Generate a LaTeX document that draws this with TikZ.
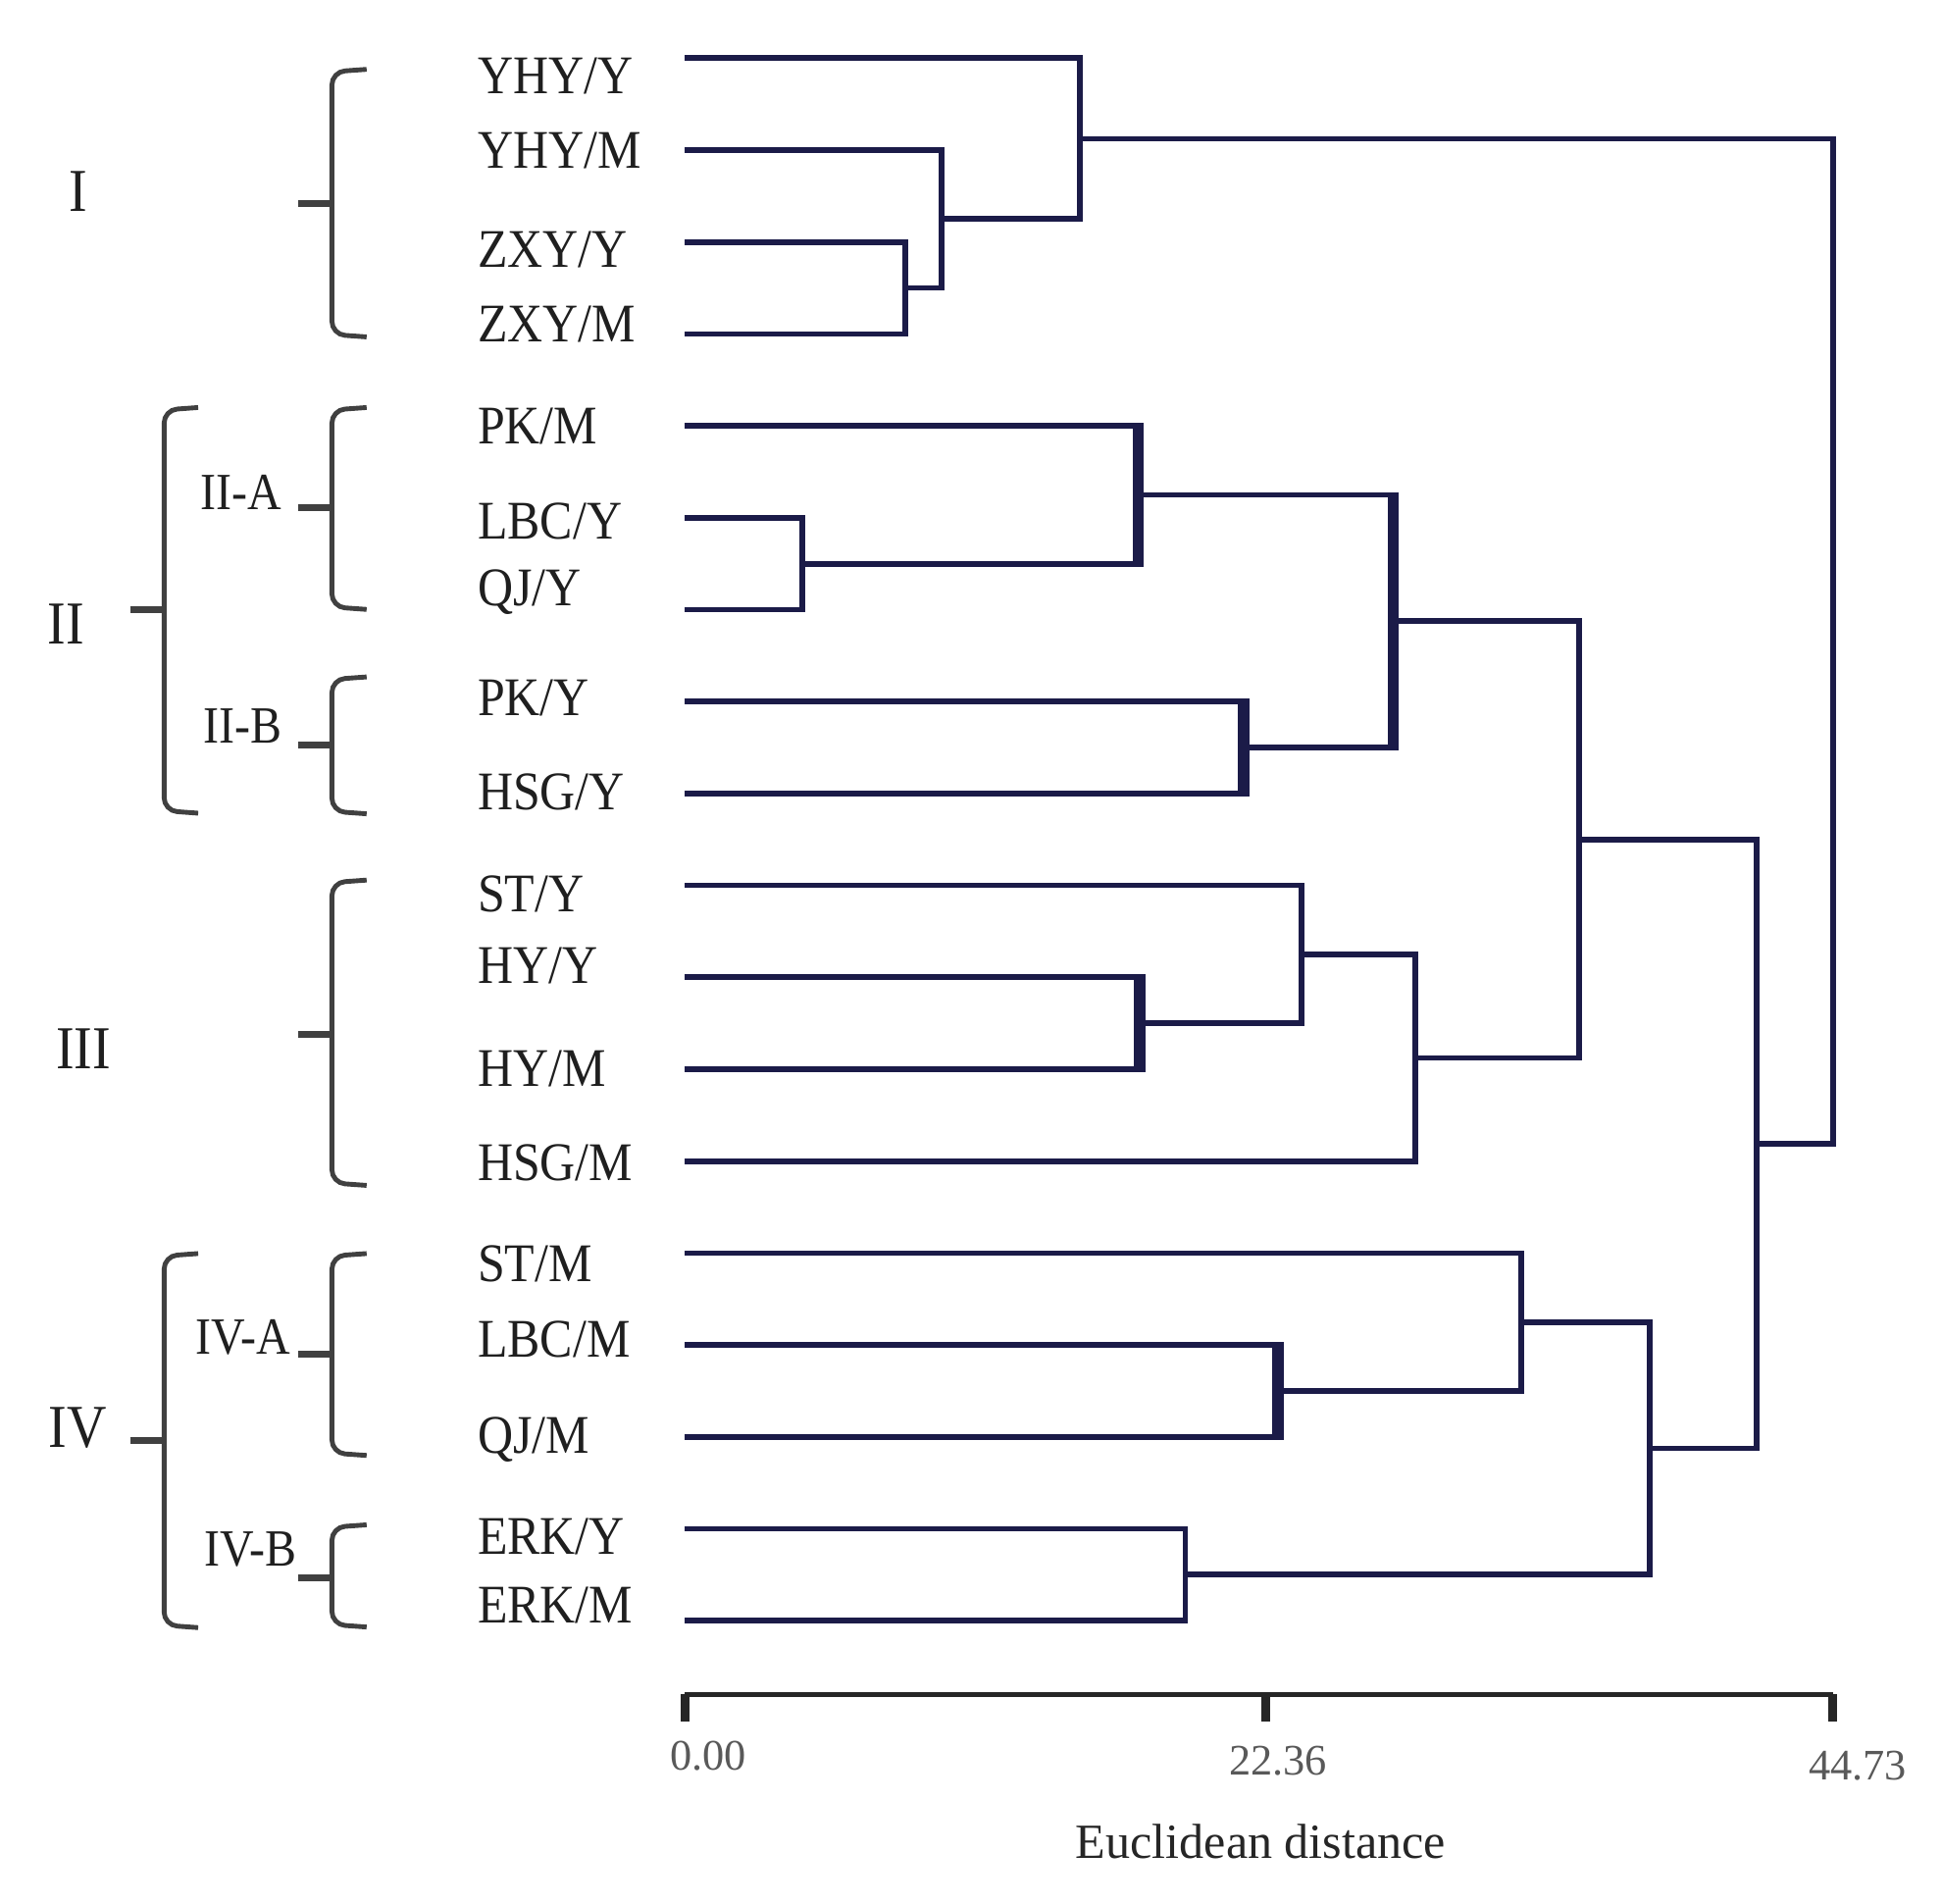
\documentclass[tikz,border=0pt]{standalone}
\usepackage{fontspec}
\setmainfont{Liberation Serif}
\newfontfamily\narrowfont{Liberation Serif}[FakeStretch=0.9]
\usepackage{tikz}
\definecolor{dendroBlue}{RGB}{27,27,72}
\definecolor{braceGray}{RGB}{64,64,64}

\begin{document}
\begin{tikzpicture}[
	link/.style={draw=dendroBlue, line width=1.3pt},
	heavy/.style={draw=dendroBlue, line width=2.6pt, shorten <=-0.65pt, shorten >=-0.65pt},
	brace/.style={draw=braceGray, line width=1.1pt, rounded corners=3pt},
	braceTick/.style={draw=braceGray, line width=1.6pt},
	leaf/.style={anchor=base west, inner sep=0pt, text=black!88, font=\narrowfont\fontsize{12.5}{14}\selectfont},
	group/.style={inner sep=0pt, text=black!88, font=\narrowfont\fontsize{14}{16}\selectfont},
	subgroup/.style={inner sep=0pt, text=black!88, font=\narrowfont\fontsize{12}{14}\selectfont},
	tickLabel/.style={anchor=base, inner sep=0pt, text=black!65, font=\fontsize{10}{12}\selectfont},
	axisTitle/.style={anchor=base, inner sep=0pt, text=black!85, font=\fontsize{11.3}{13}\selectfont}]
	
	\useasboundingbox (0,0) rectangle (15.68,-15.37);
	
	%Leaf labels
	\node (yhyYLabel) at (3.85,-0.76) [leaf]{YHY/Y};
	\node (yhyMLabel) at (3.85,-1.36) [leaf]{YHY/M};
	\node (zxyYLabel) at (3.85,-2.16) [leaf]{ZXY/Y};
	\node (zxyMLabel) at (3.85,-2.76) [leaf]{ZXY/M};
	\node (pkMLabel) at (3.85,-3.58) [leaf]{PK/M};
	\node (lbcYLabel) at (3.85,-4.35) [leaf]{LBC/Y};
	\node (qjYLabel) at (3.85,-4.89) [leaf]{QJ/Y};
	\node (pkYLabel) at (3.85,-5.78) [leaf]{PK/Y};
	\node (hsgYLabel) at (3.85,-6.54) [leaf]{HSG/Y};
	\node (stYLabel) at (3.85,-7.36) [leaf]{ST/Y};
	\node (hyYLabel) at (3.85,-7.94) [leaf]{HY/Y};
	\node (hyMLabel) at (3.85,-8.77) [leaf]{HY/M};
	\node (hsgMLabel) at (3.85,-9.53) [leaf]{HSG/M};
	\node (stMLabel) at (3.85,-10.35) [leaf]{ST/M};
	\node (lbcMLabel) at (3.85,-10.96) [leaf]{LBC/M};
	\node (qjMLabel) at (3.85,-11.73) [leaf]{QJ/M};
	\node (erkYLabel) at (3.85,-12.55) [leaf]{ERK/Y};
	\node (erkMLabel) at (3.85,-13.10) [leaf]{ERK/M};
	
	%Leaf ends
	\coordinate (yhyY) at (5.53,-0.470);
	\coordinate (yhyM) at (5.53,-1.212);
	\coordinate (zxyY) at (5.53,-1.954);
	\coordinate (zxyM) at (5.53,-2.696);
	\coordinate (pkM) at (5.53,-3.438);
	\coordinate (lbcY) at (5.53,-4.180);
	\coordinate (qjY) at (5.53,-4.922);
	\coordinate (pkY) at (5.53,-5.664);
	\coordinate (hsgY) at (5.53,-6.406);
	\coordinate (stY) at (5.53,-7.148);
	\coordinate (hyY) at (5.53,-7.890);
	\coordinate (hyM) at (5.53,-8.632);
	\coordinate (hsgM) at (5.53,-9.374);
	\coordinate (stM) at (5.53,-10.116);
	\coordinate (lbcM) at (5.53,-10.858);
	\coordinate (qjM) at (5.53,-11.600);
	\coordinate (erkY) at (5.53,-12.342);
	\coordinate (erkM) at (5.53,-13.084);
	
	%Joins
	\coordinate (zxyJoin) at (7.31,-2.325);
	\coordinate (yhyMJoin) at (7.60,-1.769);
	\coordinate (groupIJoin) at (8.72,-1.120);
	\coordinate (lbcQjJoin) at (6.48,-4.551);
	\coordinate (iiAJoin) at (9.19,-3.995);
	\coordinate (iiBJoin) at (10.04,-6.035);
	\coordinate (groupIIJoin) at (11.25,-5.015);
	\coordinate (hyJoin) at (9.20,-8.261);
	\coordinate (stHyJoin) at (10.51,-7.705);
	\coordinate (groupIIIJoin) at (11.43,-8.540);
	\coordinate (iiIiiJoin) at (12.75,-6.778);
	\coordinate (lbcQjMJoin) at (10.32,-11.229);
	\coordinate (ivAJoin) at (12.28,-10.673);
	\coordinate (ivBJoin) at (9.57,-12.713);
	\coordinate (groupIVJoin) at (13.32,-11.693);
	\coordinate (iiToIvJoin) at (14.18,-9.236);
	\coordinate (rootJoin) at (14.80,-5.178);
	
	%Links
	\draw[link] (zxyY) -| (zxyJoin) |- (zxyM);
	\draw[link] (yhyM) -| (yhyMJoin) |- (zxyJoin);
	\draw[link] (yhyY) -| (groupIJoin) |- (yhyMJoin);
	\draw[link] (lbcY) -| (lbcQjJoin) |- (qjY);
	\draw[link] (pkM) -| (iiAJoin) |- (lbcQjJoin);
	\draw[link] (pkY) -| (iiBJoin) |- (hsgY);
	\draw[link] (iiAJoin) -| (groupIIJoin) |- (iiBJoin);
	\draw[link] (hyY) -| (hyJoin) |- (hyM);
	\draw[link] (stY) -| (stHyJoin) |- (hyJoin);
	\draw[link] (stHyJoin) -| (groupIIIJoin) |- (hsgM);
	\draw[link] (groupIIJoin) -| (iiIiiJoin) |- (groupIIIJoin);
	\draw[link] (lbcM) -| (lbcQjMJoin) |- (qjM);
	\draw[link] (stM) -| (ivAJoin) |- (lbcQjMJoin);
	\draw[link] (erkY) -| (ivBJoin) |- (erkM);
	\draw[link] (ivAJoin) -| (groupIVJoin) |- (ivBJoin);
	\draw[link] (iiIiiJoin) -| (iiToIvJoin) |- (groupIVJoin);
	\draw[link] (groupIJoin) -| (rootJoin) |- (iiToIvJoin);
	
	%Heavy stems
	\draw[heavy] (iiAJoin |- pkM) -- (iiAJoin |- lbcQjJoin);
	\draw[heavy] (iiBJoin |- pkY) -- (iiBJoin |- hsgY);
	\draw[heavy] (groupIIJoin |- iiAJoin) -- (groupIIJoin |- iiBJoin);
	\draw[heavy] (hyJoin |- hyY) -- (hyJoin |- hyM);
	\draw[heavy] (lbcQjMJoin |- lbcM) -- (lbcQjMJoin |- qjM);
	
	%Braces
	\draw[brace] (2.96,-0.56) -- (2.68,-0.58) -- (2.68,-2.70) -- (2.96,-2.72);
	\draw[braceTick] (2.41,-1.645) -- (2.68,-1.645);
	\draw[brace] (2.96,-3.29) -- (2.68,-3.31) -- (2.68,-4.90) -- (2.96,-4.92);
	\draw[braceTick] (2.41,-4.10) -- (2.68,-4.10);
	\draw[brace] (2.96,-5.465) -- (2.68,-5.485) -- (2.68,-6.55) -- (2.96,-6.57);
	\draw[braceTick] (2.41,-6.015) -- (2.68,-6.015);
	\draw[brace] (2.96,-7.105) -- (2.68,-7.125) -- (2.68,-9.55) -- (2.96,-9.57);
	\draw[braceTick] (2.41,-8.35) -- (2.68,-8.35);
	\draw[brace] (2.96,-10.12) -- (2.68,-10.14) -- (2.68,-11.73) -- (2.96,-11.75);
	\draw[braceTick] (2.41,-10.935) -- (2.68,-10.935);
	\draw[brace] (2.96,-12.31) -- (2.68,-12.33) -- (2.68,-13.115) -- (2.96,-13.135);
	\draw[braceTick] (2.41,-12.735) -- (2.68,-12.735);
	\draw[brace] (1.60,-3.29) -- (1.325,-3.31) -- (1.325,-6.545) -- (1.60,-6.565);
	\draw[braceTick] (1.05,-4.92) -- (1.325,-4.92);
	\draw[brace] (1.60,-10.12) -- (1.325,-10.14) -- (1.325,-13.12) -- (1.60,-13.14);
	\draw[braceTick] (1.05,-11.63) -- (1.325,-11.63);
	
	%Group labels
	\node (groupI) at (0.635,-1.545) [group]{I};
	\node (groupII) at (0.535,-5.04) [group]{II};
	\node (groupIII) at (0.675,-8.47) [group]{III};
	\node (groupIV) at (0.625,-11.53) [group]{IV};
	\node (groupIIA) at (1.945,-3.975) [subgroup]{II-A};
	\node (groupIIB) at (1.96,-5.865) [subgroup]{II-B};
	\node (groupIVA) at (1.965,-10.80) [subgroup]{IV-A};
	\node (groupIVB) at (2.025,-12.505) [subgroup]{IV-B};
	
	%Distance axis
	\coordinate (axisStart) at (5.53,-13.68);
	\coordinate (axisMid) at (10.22,-13.68);
	\coordinate (axisEnd) at (14.80,-13.68);
	\draw[draw=black!85, line width=1.3pt] (axisStart) -- (axisEnd);
	\draw[draw=black!85, line width=2pt] (axisStart) -- ++(0,-0.22);
	\draw[draw=black!85, line width=2pt] (axisMid) -- ++(0,-0.22);
	\draw[draw=black!85, line width=2pt] (axisEnd) -- ++(0,-0.22);
	\node (tickZero) at (5.72,-14.29) [tickLabel]{0.00};
	\node (tickMid) at (10.32,-14.33) [tickLabel]{22.36};
	\node (tickMax) at (15.00,-14.37) [tickLabel]{44.73};
	\node (distanceTitle) at (10.18,-15.00) [axisTitle]{Euclidean distance};
	
\end{tikzpicture}
\end{document}
